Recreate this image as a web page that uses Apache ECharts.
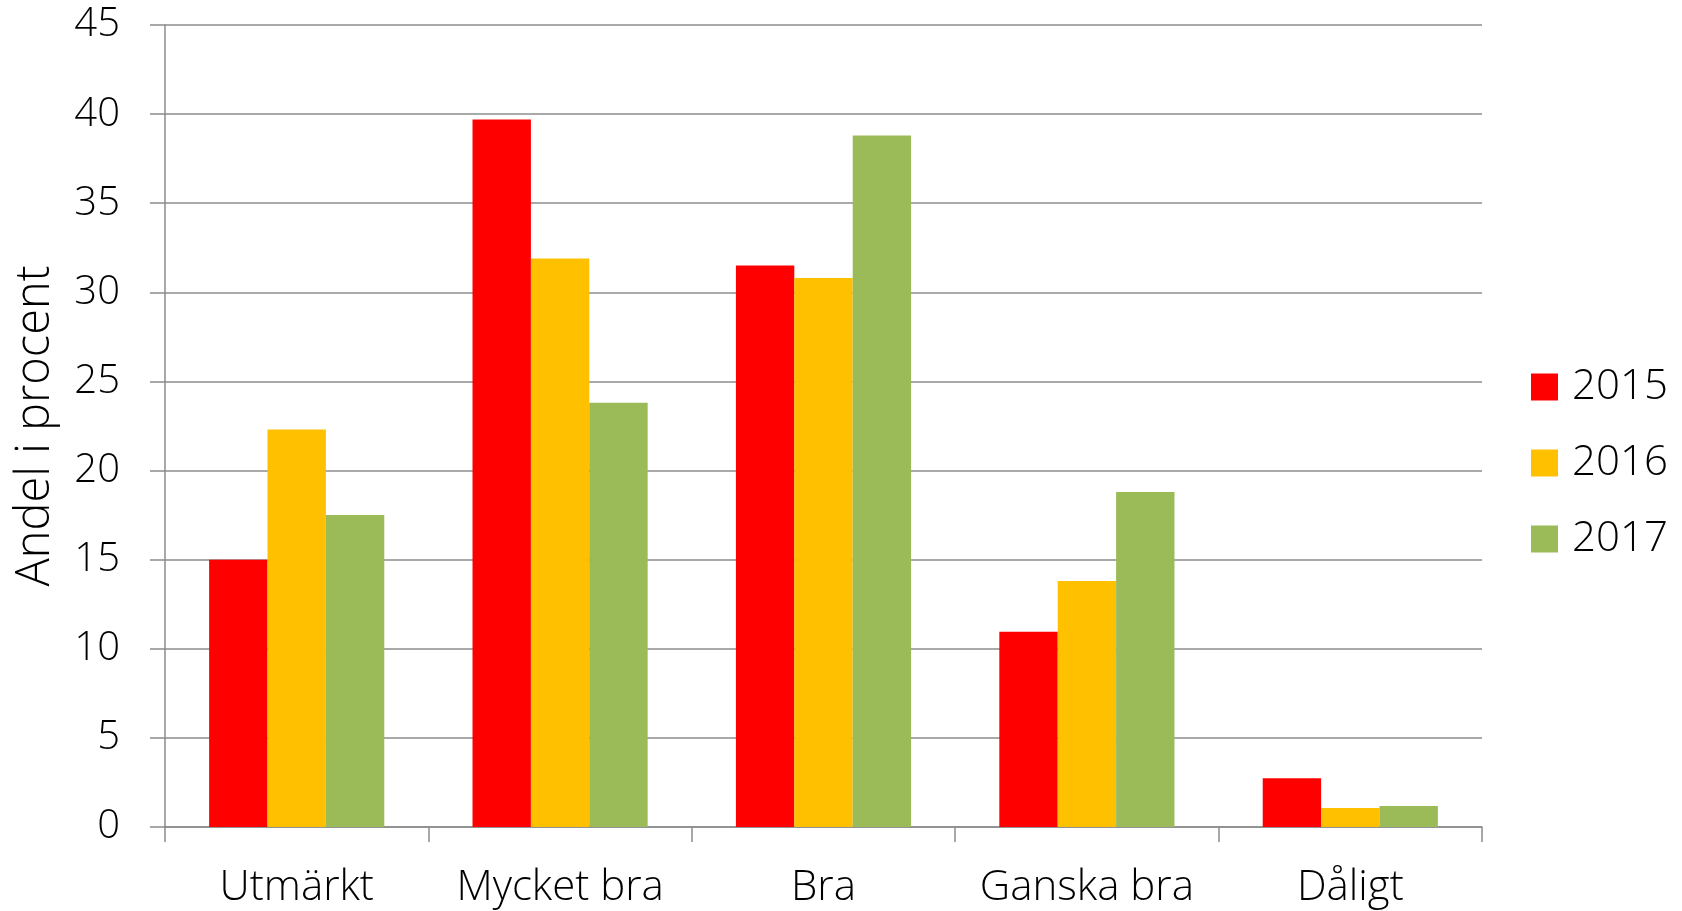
<!DOCTYPE html>
<html>
<head>
<meta charset="utf-8">
<script src="https://cdn.jsdelivr.net/npm/echarts@6/dist/echarts.min.js"></script>
<style>
  html, body { margin: 0; padding: 0; background: #fff; }
  #chart { width: 1682px; height: 911px; }
</style>
</head>
<body>
<div id="chart"></div>
<script>
var categories = ["Utmärkt", "Mycket bra", "Bra", "Ganska bra", "Dåligt"];
var years = ["2015", "2016", "2017"];
var values2015 = [15.0, 39.7, 31.5, 10.95, 2.73];
var values2016 = [22.3, 31.9, 30.8, 13.8, 1.07];
var values2017 = [17.5, 23.8, 38.8, 18.8, 1.18];
var colors = ["#ff0000", "#ffc000", "#9bbb59"];

var font = '"Open Sans", "DejaVu Sans", sans-serif';
var gray = "#8c8c8c";

var myChart = echarts.init(document.getElementById("chart"));

var option = {
  animation: false,
  textStyle: { fontFamily: font },
  grid: { left: 165, right: 200, top: 25, bottom: 84 },
  legend: {
    orient: "vertical",
    left: 1531,
    top: 366,
    padding: 0,
    itemWidth: 27,
    itemHeight: 27,
    itemGap: 34,
    icon: "rect",
    data: years,
    textStyle: { fontSize: 42, fontWeight: 300, color: "#000", lineHeight: 40, padding: [0, 0, 0, 9], fontFamily: font }
  },
  xAxis: {
    type: "category",
    data: categories,
    axisLine: { lineStyle: { color: gray, width: 1.5 } },
    axisTick: { show: true, interval: 0, length: 15, lineStyle: { color: gray, width: 1.5 } },
    axisLabel: { interval: 0, fontSize: 42, fontWeight: 300, color: "#000", margin: 40 }
  },
  yAxis: {
    type: "value",
    min: 0,
    max: 45,
    interval: 5,
    name: "Andel i procent",
    nameLocation: "middle",
    nameGap: 106,
    nameTextStyle: { fontSize: 47, fontWeight: 300, color: "#000" },
    axisLine: { show: true, lineStyle: { color: gray, width: 1.5 } },
    axisTick: { show: true, length: 15, lineStyle: { color: gray, width: 1.5 } },
    axisLabel: { fontSize: 40, fontWeight: 300, color: "#000", margin: 45 },
    splitLine: { lineStyle: { color: gray, width: 1.5 } }
  },
  series: [values2015, values2016, values2017].map(function (vals, i) {
    return {
      name: years[i],
      type: "bar",
      data: vals,
      barGap: "0%",
      barCategoryGap: "33.5%",
      itemStyle: { color: colors[i] }
    };
  })
};

myChart.setOption(option);
</script>
</body>
</html>
